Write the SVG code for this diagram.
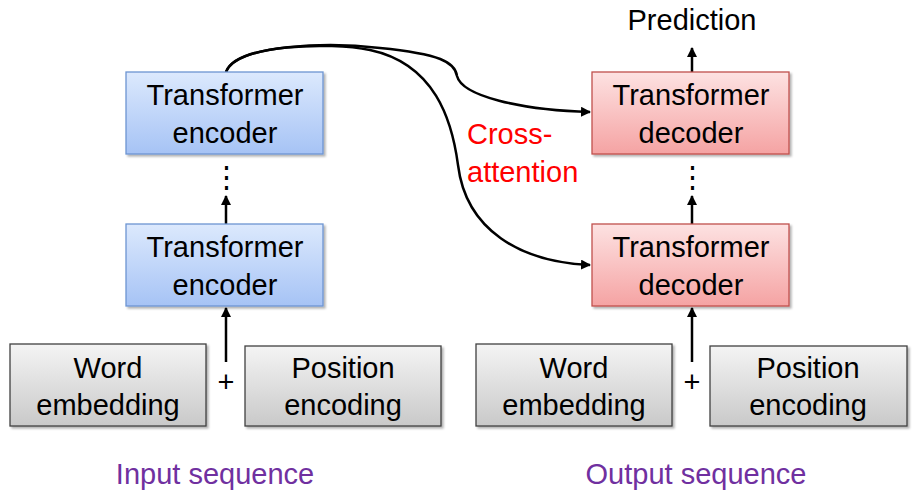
<svg xmlns="http://www.w3.org/2000/svg" width="916" height="494" viewBox="0 0 916 494">
<defs>
<linearGradient id="gb" x1="0" y1="0" x2="0" y2="1"><stop offset="0" stop-color="#dce9fd"/><stop offset="1" stop-color="#a6c3f5"/></linearGradient>
<linearGradient id="gr" x1="0" y1="0" x2="0" y2="1"><stop offset="0" stop-color="#fde2e2"/><stop offset="1" stop-color="#f5a3a3"/></linearGradient>
<linearGradient id="gg" x1="0" y1="0" x2="0" y2="1"><stop offset="0" stop-color="#f4f4f4"/><stop offset="1" stop-color="#c9c9c9"/></linearGradient>
<marker id="ah" viewBox="0 0 10 10" refX="9" refY="5" markerWidth="4" markerHeight="4" orient="auto"><path d="M0,0 L10,5 L0,10 z" fill="#000"/></marker>
<filter id="sh" x="-5%" y="-5%" width="115%" height="120%"><feDropShadow dx="2" dy="2" stdDeviation="1.2" flood-color="#000" flood-opacity="0.3"/></filter>
</defs>
<style>
text{font-family:"Liberation Sans",Arial,sans-serif;font-size:29px;text-anchor:middle;fill:#000}
.enc{fill:url(#gb);stroke:#6d94d2;stroke-width:1.3;filter:url(#sh)}
.dec{fill:url(#gr);stroke:#c0504d;stroke-width:1.3;filter:url(#sh)}
.emb{fill:url(#gg);stroke:#404040;stroke-width:1.3;filter:url(#sh)}
.c{fill:none;stroke:#000;stroke-width:2.5}
.lab{fill:#7030a0}
.red{fill:#ff0000;text-anchor:start}
</style>
<g id="connectors">
<line class="c" x1="226" y1="362" x2="226" y2="308" marker-end="url(#ah)"/>
<line class="c" x1="226" y1="224" x2="226" y2="196" marker-end="url(#ah)"/>
<line class="c" x1="692" y1="362" x2="692" y2="308" marker-end="url(#ah)"/>
<line class="c" x1="692" y1="224" x2="692" y2="196" marker-end="url(#ah)"/>
<line class="c" x1="692" y1="72" x2="692" y2="48" marker-end="url(#ah)"/>
<path class="c" d="M226,72 C236,44 330,42 380,48 C440,54 455,62 457,76 C462,96 520,110 590,112" marker-end="url(#ah)"/>
<path class="c" d="M226,72 C236,44 330,42 370,50 C435,64 452,120 458,165 C466,230 520,262 590,265" marker-end="url(#ah)"/>
<text x="226" y="187" font-size="24">⋮</text>
<text x="692" y="187" font-size="24">⋮</text>
</g>
<g id="enc2"><rect class="enc" x="126" y="72" width="197" height="82"/><text x="225" y="105">Transformer</text><text x="225" y="143">encoder</text></g>
<g id="enc1"><rect class="enc" x="126" y="224" width="197" height="82"/><text x="225" y="257">Transformer</text><text x="225" y="295">encoder</text></g>
<g id="dec2"><rect class="dec" x="592" y="72" width="197" height="82"/><text x="691" y="105">Transformer</text><text x="691" y="143">decoder</text></g>
<g id="dec1"><rect class="dec" x="592" y="224" width="197" height="82"/><text x="691" y="257">Transformer</text><text x="691" y="295">decoder</text></g>
<g id="we1"><rect class="emb" x="10" y="344" width="196" height="82"/><text x="108" y="378">Word</text><text x="108" y="415">embedding</text></g>
<g id="pe1"><rect class="emb" x="245" y="346" width="196" height="80"/><text x="343" y="378">Position</text><text x="343" y="415">encoding</text></g>
<g id="we2"><rect class="emb" x="476" y="344" width="196" height="82"/><text x="574" y="378">Word</text><text x="574" y="415">embedding</text></g>
<g id="pe2"><rect class="emb" x="710" y="346" width="197" height="80"/><text x="808" y="378">Position</text><text x="808" y="415">encoding</text></g>
<text x="226" y="392" font-size="22">+</text>
<text x="692" y="392" font-size="22">+</text>
<text x="692" y="30" font-size="28">Prediction</text>
<text class="red" x="467" y="144" font-size="29">Cross-</text>
<text class="red" x="467" y="182" font-size="29">attention</text>
<text class="lab" x="215" y="484" font-size="28">Input sequence</text>
<text class="lab" x="696" y="484" font-size="28">Output sequence</text>
</svg>
